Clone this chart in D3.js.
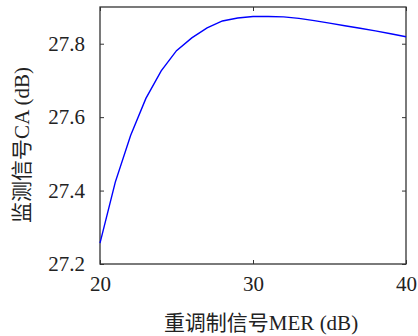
<!DOCTYPE html>
<html>
<head>
<meta charset="utf-8">
<script src="https://cdn.jsdelivr.net/npm/d3@7"></script>
<style>
  body { margin: 0; background: #fff; }
  #chart text, #chart tspan { font-family: "Liberation Serif", "Noto Sans CJK SC", serif !important; }
</style>
</head>
<body>
<svg id="chart" width="418" height="336"></svg>
<script>
// MER (dB) on x, CA (dB) on y
const mer = [20, 21, 22, 23, 24, 25, 26, 27, 28, 29, 30, 31, 32, 33, 34, 35, 36, 37, 38, 39, 40];
const ca = [27.257, 27.423, 27.550, 27.651, 27.726, 27.781, 27.816, 27.843, 27.862, 27.870, 27.874,
            27.874, 27.873, 27.869, 27.863, 27.856, 27.849, 27.842, 27.835, 27.827, 27.819];
const xTicks = [20, 30, 40];
const yTicks = [27.2, 27.4, 27.6, 27.8];
const xLabel = "重调制信号MER (dB)";
const yLabel = "监测信号CA (dB)";

const margin = {left: 100, right: 12, top: 7, bottom: 72};
const width = 418 - margin.left - margin.right;
const height = 336 - margin.top - margin.bottom;

let svg = d3.select("#chart");
let g = svg.append("g").attr("transform", `translate(${margin.left},${margin.top})`);

let x = d3.scaleLinear().domain([20, 40]).range([0, width]);
let y = d3.scaleLinear().domain([27.2, 27.9]).range([height, 0]);

// axes, ticks pointing inward
let axisStyle = function(sel) {
    sel.attr("font-family", null).attr("font-size", 21);
    sel.select(".domain").remove();
    sel.selectAll(".tick line").attr("stroke", "#333").attr("stroke-width", 1);
    sel.selectAll(".tick text").attr("fill", "#222");
};

g.append("g")
    .attr("transform", `translate(0,${height})`)
    .call(d3.axisBottom(x).tickValues(xTicks).tickSize(-4).tickPadding(12).tickFormat(d3.format("d")))
    .call(axisStyle);

g.append("g")
    .call(d3.axisLeft(y).tickValues(yTicks).tickSize(-4).tickPadding(15).tickFormat(d3.format(".1f")))
    .call(axisStyle);

g.append("g")
    .call(d3.axisTop(x).tickValues(xTicks).tickSize(-4).tickFormat(""))
    .call(axisStyle);

g.append("g")
    .attr("transform", `translate(${width},0)`)
    .call(d3.axisRight(y).tickValues(yTicks).tickSize(-4).tickFormat(""))
    .call(axisStyle);

// frame
g.append("rect")
    .attr("width", width).attr("height", height)
    .attr("fill", "none").attr("stroke", "#333").attr("stroke-width", 1.3);

// curve
let line = d3.line().x((d, i) => x(mer[i])).y(d => y(d));
g.append("path")
    .datum(ca)
    .attr("d", line)
    .attr("fill", "none")
    .attr("stroke", "#0000ff")
    .attr("stroke-width", 1.4);

// labels
svg.append("text")
    .attr("x", 261).attr("y", 330)
    .attr("text-anchor", "middle")
    .attr("font-size", 21)
    .attr("fill", "#222")
    .text(xLabel);

svg.append("text")
    .attr("transform", "translate(29,145) rotate(-90)")
    .attr("text-anchor", "middle")
    .attr("font-size", 21)
    .attr("fill", "#222")
    .text(yLabel);
</script>
</body>
</html>
